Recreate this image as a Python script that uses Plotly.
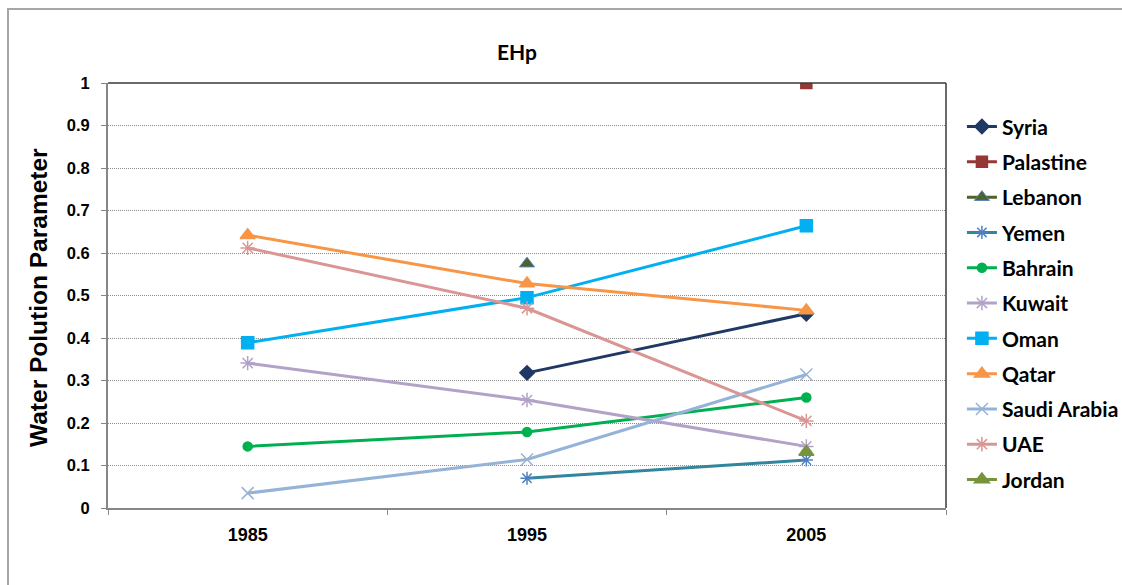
import plotly.graph_objects as go

# EHp water pollution parameter by country and year
years = ["1985", "1995", "2005"]

syria = [None, 0.318, 0.457]
palastine = [None, None, 1.0]
lebanon = [None, 0.575, None]
yemen = [None, 0.07, 0.113]
bahrain = [0.145, 0.179, 0.26]
kuwait = [0.341, 0.254, 0.145]
oman = [0.389, 0.495, 0.664]
qatar = [0.642, 0.528, 0.465]
saudi_arabia = [0.035, 0.114, 0.314]
uae = [0.612, 0.47, 0.205]
jordan = [None, None, 0.132]

series = [
    ("Syria", syria, "#1F3864", "#1F3864", "diamond", 11),
    ("Palastine", palastine, "#953735", "#953735", "square", 11),
    ("Lebanon", lebanon, "#4F6228", "#4F6228", "triangle-up", 13),
    ("Yemen", yemen, "#31859C", "#4F81BD", "asterisk-open", 11),
    ("Bahrain", bahrain, "#00B050", "#00B050", "circle", 9),
    ("Kuwait", kuwait, "#B3A2C7", "#B3A2C7", "asterisk-open", 12),
    ("Oman", oman, "#00B0F0", "#00B0F0", "square", 12),
    ("Qatar", qatar, "#F79646", "#F79646", "triangle-up", 13),
    ("Saudi Arabia", saudi_arabia, "#95B3D7", "#95B3D7", "x-thin-open", 12),
    ("UAE", uae, "#D99694", "#D99694", "asterisk-open", 12),
    ("Jordan", jordan, "#77933C", "#77933C", "triangle-up", 13),
]

fig = go.Figure()
for name, vals, lcolor, mcolor, symbol, size in series:
    marker = dict(symbol=symbol, size=size, color=mcolor,
                  line=dict(color=mcolor, width=1.5))
    if name == "Lebanon":
        marker["line"] = dict(color="#4F81BD", width=1)
    fig.add_trace(go.Scatter(
        x=years, y=vals, name=name, mode="lines+markers",
        line=dict(color=lcolor, width=3),
        marker=marker, legendgroup=name,
    ))

arial_bold = dict(family="Liberation Sans, Arial", color="black", weight="bold")

fig.update_layout(
    width=1122, height=585,
    margin=dict(l=108, r=176, t=83, b=77, autoexpand=False),
    paper_bgcolor="white", plot_bgcolor="white",
    showlegend=True,
    legend=dict(
        x=1.019, y=0.945, xanchor="left", yanchor="top",
        font=dict(family="Lato", size=21, color="black", weight="bold"),
        tracegroupgap=5, itemwidth=30,
        bgcolor="rgba(0,0,0,0)",
    ),
    xaxis=dict(
        type="category", range=[-0.5, 2.5], tickson="boundaries",
        ticks="outside", ticklen=5,
        tickcolor="#868686", showline=True, linecolor="#868686", linewidth=2,
        showgrid=False, tickfont=dict(arial_bold, size=18),
        ticklabelstandoff=9,
    ),
    yaxis=dict(
        range=[0, 1], dtick=0.1, tickformat="~g",
        ticks="outside", ticklen=5, tickcolor="#868686",
        showline=True, linecolor="#868686", linewidth=2,
        showgrid=True, gridcolor="#8C8C8C", gridwidth=1, griddash="1px,1px",
        zeroline=False, tickfont=dict(arial_bold, size=16.5),
        ticklabelstandoff=8,
    ),
    annotations=[
        dict(text="EHp", xref="paper", yref="paper",
             x=(517 - 108) / 838, y=(508 - 52) / 425,
             xanchor="center", yanchor="middle", showarrow=False,
             font=dict(family="Lato", size=21, color="black", weight="bold")),
        dict(text="Water Polution Parameter", xref="paper", yref="paper",
             x=(38 - 108) / 838, y=(508 - 298) / 425, textangle=-90,
             xanchor="center", yanchor="middle", showarrow=False,
             font=dict(arial_bold, size=24.5)),
    ],
    shapes=[
        # top and right edges of the plot area
        dict(type="line", xref="paper", yref="paper", x0=0, x1=1, y0=1, y1=1,
             line=dict(color="#3A3A3A", width=1.5)),
        dict(type="line", xref="paper", yref="paper", x0=1, x1=1, y0=0, y1=1,
             line=dict(color="#3A3A3A", width=1.5)),
        # outer chart frame
        dict(type="rect", xref="paper", yref="paper",
             x0=(8 - 108) / 838, x1=(1130 - 108) / 838,
             y0=(508 - 600) / 425, y1=(508 - 9) / 425,
             line=dict(color="#A6A6A6", width=2)),
    ],
)

fig.write_html("out.html")
